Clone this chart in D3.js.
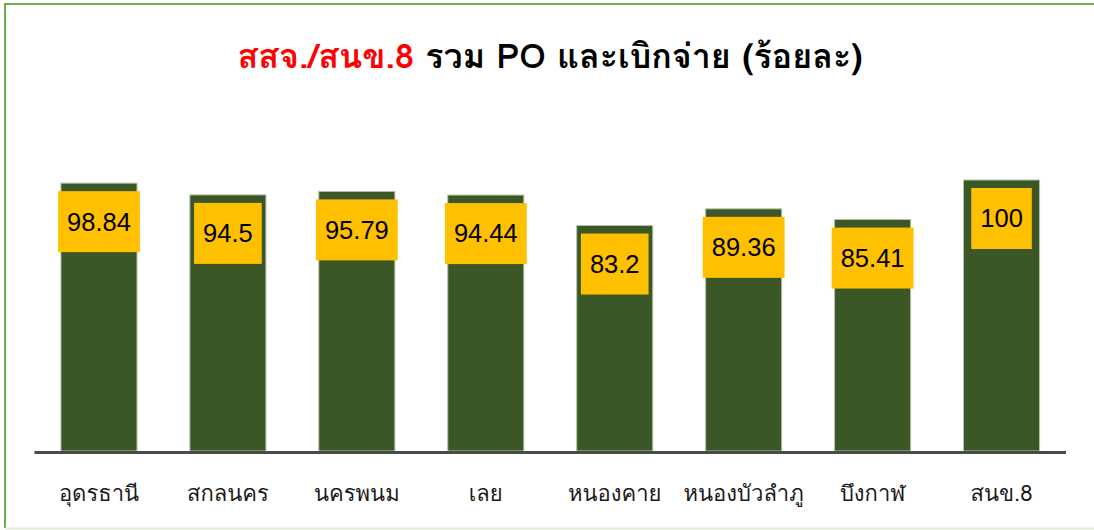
<!DOCTYPE html>
<html>
<head>
<meta charset="utf-8">
<script src="https://cdn.jsdelivr.net/npm/d3@7"></script>
<style>
  body { margin: 0; background: #fff; }
</style>
</head>
<body>
<div id="chart"></div>
<script>
// chart data
const categories = ["อุดรธานี", "สกลนคร", "นครพนม", "เลย", "หนองคาย", "หนองบัวลำภู", "บึงกาฬ", "สนข.8"];
const values = [98.84, 94.5, 95.79, 94.44, 83.2, 89.36, 85.41, 100];
const titleRed = "สสจ./สนข.8";
const titleBlack = " รวม PO และเบิกจ่าย (ร้อยละ)";

const width = 1094;
const height = 530;
const thaiFont = "Tahoma, Loma, Garuda, Waree, 'Noto Sans Thai', 'Noto Sans', sans-serif";
const numFont = "'Liberation Sans', Arial, sans-serif";

const svg = d3.select("#chart")
    .append("svg")
    .attr("width", width)
    .attr("height", height);

// outer border (top + left strong, bottom faint)
svg.append("path")
    .attr("d", `M${width + 5},4 H5 V528`)
    .attr("fill", "none")
    .attr("stroke", "#70ad47")
    .attr("stroke-width", 2);
svg.append("line")
    .attr("x1", 5).attr("x2", width)
    .attr("y1", 528.5).attr("y2", 528.5)
    .attr("stroke", "#e2ecd9")
    .attr("stroke-width", 2);

// title
const title = svg.append("text")
    .attr("x", 550)
    .attr("y", 68)
    .attr("text-anchor", "middle")
    .style("font-family", thaiFont)
    .style("font-size", "34px")
    .style("font-weight", "bold");
title.append("tspan").attr("fill", "#ff0000").text(titleRed);
title.append("tspan").attr("fill", "#000000").text(titleBlack);

const x = d3.scaleBand()
    .domain(categories)
    .range([34.5, 1066])
    .paddingInner(0.41)
    .paddingOuter(0.205);

const y = d3.scaleLinear()
    .domain([0, 100])
    .range([451, 180]);

const data = categories.map((c, i) => ({ cat: c, value: values[i] }));

svg.selectAll("rect.bar")
    .data(data)
    .enter()
    .append("rect")
    .attr("class", "bar")
    .attr("x", d => x(d.cat))
    .attr("y", d => y(d.value))
    .attr("width", x.bandwidth())
    .attr("height", d => y(0) - y(d.value))
    .attr("fill", "#3b5725")
    .attr("stroke", "#b4c2aa")
    .attr("stroke-width", 1);

// baseline
svg.append("line")
    .attr("x1", x.range()[0])
    .attr("x2", x.range()[1])
    .attr("y1", y(0) + 1.5)
    .attr("y2", y(0) + 1.5)
    .attr("stroke", "#4a4a4a")
    .attr("stroke-width", 3);

// category labels
svg.selectAll("text.cat")
    .data(data)
    .enter()
    .append("text")
    .attr("class", "cat")
    .attr("x", d => x(d.cat) + x.bandwidth() / 2)
    .attr("y", 501)
    .attr("text-anchor", "middle")
    .style("font-family", thaiFont)
    .style("font-size", "22px")
    .style("fill", "#1a1a1a")
    .text(d => d.cat);

// value labels in yellow boxes
const labels = svg.selectAll("g.lbl")
    .data(data)
    .enter()
    .append("g")
    .attr("class", "lbl")
    .attr("transform", d => `translate(${x(d.cat) + x.bandwidth() / 2},${y(d.value) + 8})`);

labels.append("rect")
    .attr("fill", "#ffc000")
    .attr("y", 0)
    .attr("height", 61);

const texts = labels.append("text")
    .attr("text-anchor", "middle")
    .attr("y", 30.5)
    .attr("dy", "0.35em")
    .style("font-family", numFont)
    .style("font-size", "25.5px")
    .style("fill", "#000")
    .text(d => d.value);

texts.each(function (d) {
    const w = this.getComputedTextLength();
    d3.select(this.parentNode).select("rect")
        .attr("x", -(w + 18) / 2)
        .attr("width", w + 18);
});
</script>
</body>
</html>
